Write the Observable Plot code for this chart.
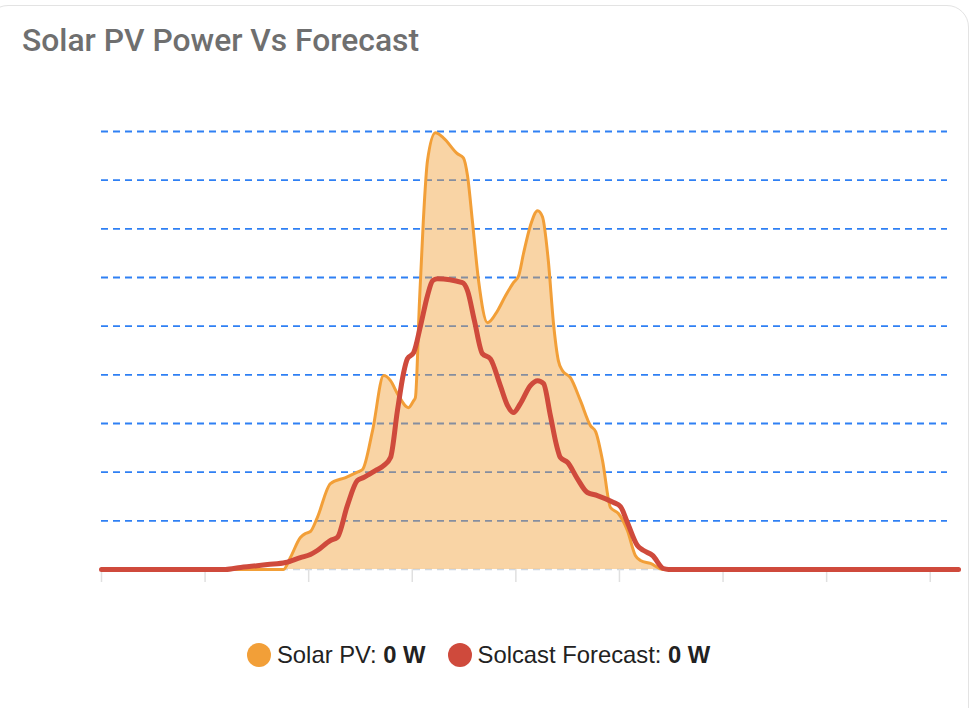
<!DOCTYPE html>
<html>
<head>
<meta charset="utf-8">
<script src="https://cdn.jsdelivr.net/npm/d3@7"></script>
<script src="https://cdn.jsdelivr.net/npm/@observablehq/plot@0.6"></script>
<style>
  html, body { margin: 0; padding: 0; background: #ffffff; overflow: hidden; }
  body { width: 978px; height: 708px; position: relative; }
  #card { position: absolute; left: -14px; top: 5px; width: 983px; height: 780px;
          border: 1.5px solid #e3e3e3; border-radius: 22px; box-sizing: border-box; background: #fff; }
  #title { position: absolute; left: 22px; top: 25px; font-family: Roboto, "Noto Sans", sans-serif;
           font-weight: 500; font-size: 31.8px; line-height: 1; color: #6f6f6f; white-space: nowrap; }
  #chart { position: absolute; left: 0; top: 0; }
  #legend { position: absolute; left: 247px; top: 641px; display: flex; align-items: center;
            font-family: "Liberation Sans", Arial, sans-serif; font-size: 23.8px; color: #222; white-space: nowrap; }
  .item { display: flex; align-items: center; margin-right: 22px; }
  .dot { width: 24px; height: 24px; border-radius: 50%; margin-right: 6px; }
  .val { font-weight: bold; }
</style>
</head>
<body>
<div id="card"></div>
<div id="title">Solar PV Power Vs Forecast</div>
<div id="chart"></div>
<div id="legend"></div>
<script>
// ---- data (hours since window start, watts) ----
const solarHours = [0, 5.27, 5.47, 5.76, 5.91, 6.05, 6.25, 6.63, 7.07, 7.41, 7.56, 7.85, 8.17, 8.37, 8.57, 8.89, 9.04, 9.09, 9.21, 9.32, 9.44, 9.67, 9.90, 10.31, 10.48, 10.60, 10.74, 10.92, 11.18, 11.47, 11.70, 11.93, 12.08, 12.22, 12.42, 12.63, 12.77, 12.94, 13.09, 13.23, 13.35, 13.58, 13.87, 14.16, 14.31, 14.51, 14.74, 14.97, 15.23, 15.46, 15.61, 15.90, 16.27, 24.82];
const solarWatts = [0, 0, 123, 329, 370, 390, 534, 883, 945, 1000, 1027, 1427, 1992, 1940, 1807, 1663, 1735, 1766, 2762, 3583, 4199, 4487, 4435, 4271, 4230, 4045, 3583, 2967, 2536, 2659, 2813, 2947, 3018, 3244, 3532, 3686, 3624, 3172, 2526, 2146, 2043, 1971, 1735, 1478, 1417, 1119, 637, 575, 400, 144, 92, 62, 0, 0];

const forecastHours = [0, 3.59, 4.03, 4.81, 5.33, 5.76, 6.05, 6.25, 6.63, 6.83, 7.12, 7.41, 7.59, 7.93, 8.17, 8.37, 8.57, 8.75, 8.86, 9.04, 9.24, 9.44, 9.59, 9.73, 10.45, 10.60, 10.80, 11.03, 11.26, 11.55, 11.76, 11.93, 12.13, 12.42, 12.63, 12.80, 13.00, 13.18, 13.29, 13.50, 13.78, 14.07, 14.36, 14.83, 15.03, 15.23, 15.52, 15.70, 15.96, 16.27, 16.42, 24.82];
const forecastWatts = [0, 0, 21, 51, 72, 123, 154, 195, 298, 329, 657, 914, 945, 1016, 1068, 1150, 1632, 2023, 2166, 2228, 2505, 2813, 2967, 2988, 2947, 2864, 2556, 2218, 2166, 1889, 1684, 1612, 1704, 1889, 1940, 1910, 1581, 1273, 1150, 1099, 934, 791, 760, 688, 647, 483, 246, 195, 144, 10, 0, 0];

const xTicks = [0, 3, 6, 9, 12, 15, 18, 21, 24];
const yTicks = [500, 1000, 1500, 2000, 2500, 3000, 3500, 4000, 4500];
const xDomain = [0, 24.5];
const yDomain = [0, 4500];

const seriesNames = ["Solar PV", "Solcast Forecast"];
const seriesColors = ["#f29f38", "#cf4a3c"];
const currentValues = ["0 W", "0 W"];

const solar = solarHours.map((h, i) => ({h, w: solarWatts[i]}));
const forecast = forecastHours.map((h, i) => ({h, w: forecastWatts[i]}));

const chart = Plot.plot({
  width: 978,
  height: 600,
  marginLeft: 101,
  marginRight: 31,
  marginTop: 131,
  marginBottom: 31,
  style: {background: "transparent", overflow: "visible"},
  x: {domain: xDomain, label: null},
  y: {domain: yDomain, axis: null},
  marks: [
    Plot.ruleY(yTicks, {stroke: "#2f80f4", strokeWidth: 1.8, strokeDasharray: "7,5"}),
    Plot.ruleY([0], {stroke: "#cfd8e2", strokeWidth: 1.5, strokeDasharray: "7,5"}),
    Plot.axisX({ticks: xTicks, tickSize: 13, tickPadding: 0, tickFormat: () => "", label: null, stroke: "#e0e0e0", strokeWidth: 1.5, strokeOpacity: 1}),
    Plot.areaY(solar, {x: "h", y: "w", fill: seriesColors[0], fillOpacity: 0.45, curve: "monotone-x"}),
    Plot.lineY(solar, {x: "h", y: "w", stroke: seriesColors[0], strokeWidth: 3, curve: "monotone-x"}),
    Plot.lineY(forecast, {x: "h", y: "w", stroke: seriesColors[1], strokeWidth: 5, curve: "monotone-x"})
  ]
});
document.getElementById("chart").appendChild(chart);

const legend = document.getElementById("legend");
seriesNames.forEach((name, i) => {
  const item = document.createElement("div");
  item.className = "item";
  item.innerHTML = `<span class="dot" style="background:${seriesColors[i]}"></span><span>${name}:&nbsp;<span class="val">${currentValues[i]}</span></span>`;
  legend.appendChild(item);
});
</script>
</body>
</html>
